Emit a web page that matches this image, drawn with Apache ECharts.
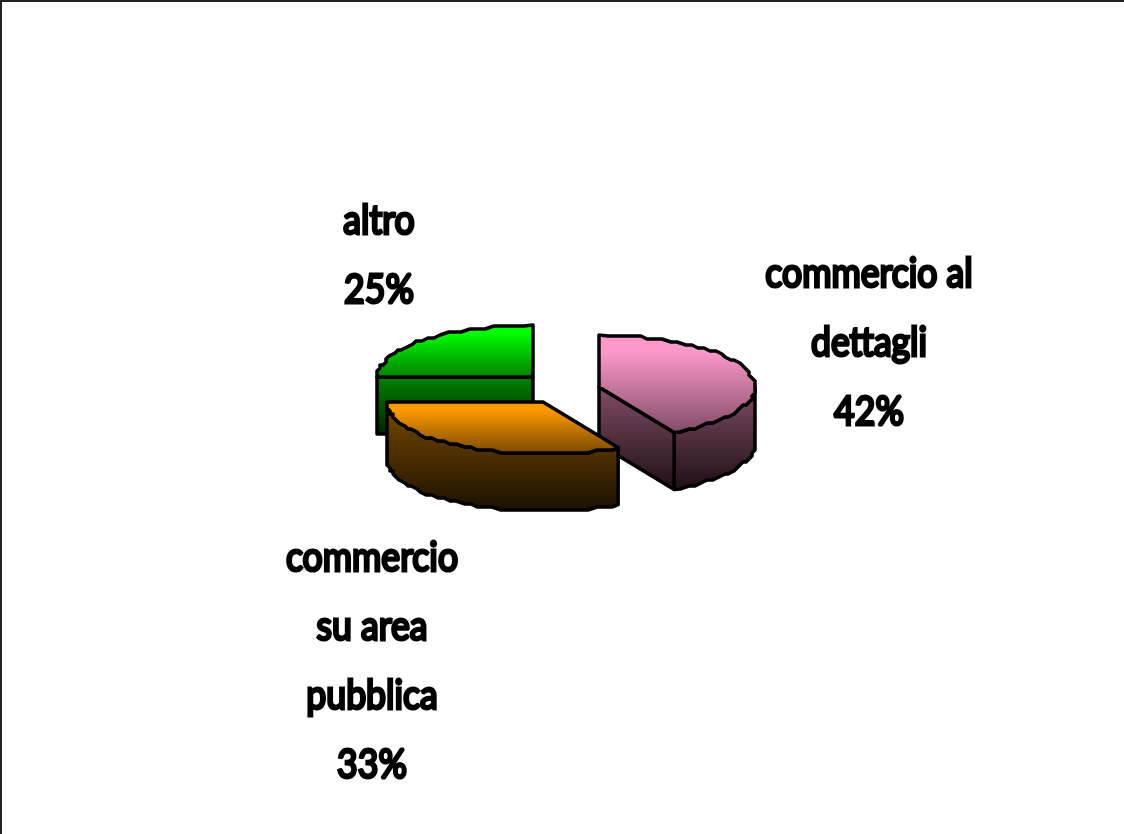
<!DOCTYPE html>
<html>
<head>
<meta charset="utf-8">
<style>
  html, body { margin: 0; padding: 0; background: #fff; }
  #chart { width: 1124px; height: 834px; }
</style>
<script src="https://cdn.jsdelivr.net/npm/echarts@6/dist/echarts.min.js"></script>
</head>
<body>
<div id="chart"></div>
<script>
const categories = ['commercio al\ndettagli', 'commercio\nsu area\npubblica', 'altro'];
const shares = [42, 33, 25];

// exploded 3d pie: one centre per slice, same ellipse for all
const sliceCentres = [[599, 387], [543, 402], [533, 377]];
const labelCentres = [[869, 343], [372, 662], [379, 256]];
const topColours = ['#ff99cc', '#ff9900', '#00ff00'];
const midColours = ['#804d66', '#7a4a00', '#008000'];
const bottomColours = ['#1e0f16', '#1c1100', '#002400'];
const sliceOrder = [2, 0, 1]; // back to front
const radiusX = 156, radiusY = 52, depth = 57;
const LINE = 69;

const total = shares.reduce((a, b) => a + b, 0);

// the reference outline is a coarse polygon, so snap the arc to a rough grid
function arcPoints(cx, cy, from, to) {
  const pts = [];
  const steps = Math.max(2, Math.round((to - from) / 3));
  for (let i = 0; i <= steps; i++) {
    const a = (from + (to - from) * i / steps) * Math.PI / 180;
    let x = radiusX * Math.sin(a), y = -radiusY * Math.cos(a);
    if (i > 0 && i < steps) {
      x = Math.round(x / 3) * 3;
      y = Math.round(y / 3) * 3;
    }
    pts.push([cx + x, cy + y]);
  }
  return pts;
}

function wall(top, dy) {
  return top.concat(top.slice().reverse().map(p => [p[0], p[1] + dy]));
}

function renderSlice(params, api) {
  const idx = params.dataIndex;
  const share = api.value(0);
  const before = shares.slice(0, idx).reduce((a, b) => a + b, 0);
  const from = before / total * 360, to = (before + share) / total * 360;
  const [cx, cy] = sliceCentres[idx];
  const rim = arcPoints(cx, cy, from, to);
  const ys = rim.map(p => p[1]).concat(cy);
  const topY = Math.min.apply(null, ys), rimY = Math.max.apply(null, ys);
  const topFill = new echarts.graphic.LinearGradient(0, topY, 0, rimY, [
    { offset: 0, color: topColours[idx] },
    { offset: 0.15, color: topColours[idx] },
    { offset: 1, color: midColours[idx] }
  ], true);
  const wallTop = idx === 1 ? rim[rim.length - 1][1] : cy;
  const wallFill = new echarts.graphic.LinearGradient(0, wallTop, 0, rimY + depth, [
    { offset: 0, color: midColours[idx] },
    { offset: 1, color: bottomColours[idx] }
  ], true);
  const edge = { stroke: '#000', lineWidth: 3.5, lineJoin: 'round' };
  const z = sliceOrder.indexOf(idx) * 10;
  const children = [];

  // faces that turn toward the viewer
  const front = rim.filter((p, i) => from + (to - from) * i / (rim.length - 1) >= 90 &&
    from + (to - from) * i / (rim.length - 1) <= 270);
  if (from < 90 && to > 90) front.unshift([cx + radiusX, cy]);
  if (front.length > 1) {
    children.push({ type: 'polygon', z2: z, shape: { points: wall(front, depth) },
      style: Object.assign({ fill: wallFill }, edge) });
  }
  [from, to].forEach((deg, k) => {
    const end = k === 0 ? rim[0] : rim[rim.length - 1];
    const visible = k === 0 ? (deg > 180 && deg < 360) : (deg > 0 && deg < 180);
    if (visible) {
      children.push({ type: 'polygon', z2: z + 1,
        shape: { points: wall([[cx, cy], end], depth) },
        style: Object.assign({ fill: wallFill }, edge) });
    }
  });
  children.push({ type: 'polygon', z2: z + 2,
    shape: { points: [[cx, cy]].concat(rim) },
    style: Object.assign({ fill: topFill }, edge) });

  // label: every line centred, fixed leading, squeezed to the narrow look of the reference
  const lines = (categories[idx] + '\n' + share + '%').split('\n');
  lines.forEach((txt, i) => {
    children.push({ type: 'text', z2: 50,
      x: labelCentres[idx][0],
      y: labelCentres[idx][1] + (i - (lines.length - 1) / 2) * LINE,
      scaleX: 0.89,
      style: {
        text: txt,
        align: 'center',
        verticalAlign: 'middle',
        fill: '#000',
        stroke: '#000',
        lineWidth: 3,
        lineJoin: 'round',
        font: '40px Lato, sans-serif'
      } });
  });
  return { type: 'group', children: children };
}

const chart = echarts.init(document.getElementById('chart'), null, { renderer: 'canvas' });
chart.setOption({
  animation: false,
  backgroundColor: '#ffffff',
  graphic: [
    { type: 'line', shape: { x1: 1, y1: 0, x2: 1, y2: 834 }, style: { stroke: '#222', lineWidth: 2 } },
    { type: 'line', shape: { x1: 0, y1: 1, x2: 1124, y2: 1 }, style: { stroke: '#222', lineWidth: 2 } }
  ],
  series: [{
    type: 'custom',
    coordinateSystem: 'none',
    renderItem: renderSlice,
    data: shares.map(v => [v]),
    silent: true
  }]
});
</script>
</body>
</html>
